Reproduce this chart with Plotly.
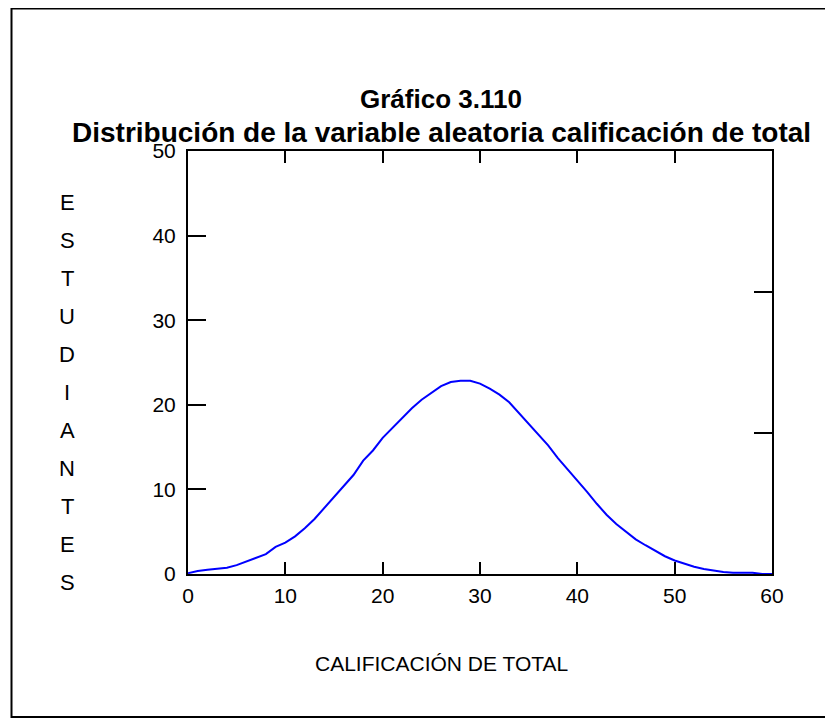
import plotly.graph_objects as go

# calificación de total (x) y número de estudiantes (y)
calificacion = list(range(0, 61))
estudiantes = [
    0.1, 0.35, 0.5, 0.6, 0.75, 1.05, 1.5, 1.95, 2.35, 3.2,
    3.7, 4.45, 5.4, 6.5, 7.8, 9.1, 10.4, 11.7, 13.4, 14.6,
    16.1, 17.3, 18.5, 19.6, 20.6, 21.4, 22.2, 22.7, 22.85, 22.85,
    22.5, 21.9, 21.2, 20.3, 19.0, 17.7, 16.4, 15.2, 13.7, 12.4,
    11.0, 9.7, 8.3, 7.0, 5.9, 5.0, 4.1, 3.4, 2.7, 2.1,
    1.6, 1.2, 0.85, 0.6, 0.4, 0.25, 0.15, 0.15, 0.15, 0.0,
    0.0,
]
x_ticks = [0, 10, 20, 30, 40, 50, 60]
y_ticks = [0, 10, 20, 30, 40, 50]

FONT = "Liberation Sans, Arial, sans-serif"
OFF = 8  # page body margin

fig = go.Figure()
fig.add_trace(
    go.Scatter(
        x=calificacion,
        y=estudiantes,
        mode="lines",
        line=dict(color="#0000ff", width=2),
        showlegend=False,
    )
)
# invisible trace so the right-hand axis gets drawn
fig.add_trace(
    go.Scatter(x=[0], y=[0], yaxis="y2", mode="markers",
               marker=dict(opacity=0), showlegend=False, hoverinfo="skip")
)

W, H = 833, 725
L, T = 188 - OFF, 151 - OFF
R, B = W - (772 - OFF), H - (574 - OFF)
pw, ph = W - L - R, H - T - B

fig.update_layout(
    width=W,
    height=H,
    plot_bgcolor="white",
    paper_bgcolor="white",
    margin=dict(l=L, r=R, t=T, b=B, pad=0),
    font=dict(family=FONT, color="black", size=21),
    xaxis=dict(
        range=[0, 60],
        tickvals=x_ticks,
        ticks="inside",
        ticklen=12,
        tickwidth=2,
        tickcolor="black",
        showline=True,
        linecolor="black",
        linewidth=2,
        mirror="ticks",
        showgrid=False,
        zeroline=False,
        ticklabelstandoff=2,
    ),
    yaxis=dict(
        range=[0, 50],
        tickvals=y_ticks,
        ticks="inside",
        ticklen=18,
        tickwidth=2,
        tickcolor="black",
        showline=True,
        linecolor="black",
        linewidth=2,
        mirror=True,
        showgrid=False,
        zeroline=False,
        ticklabelstandoff=6,
    ),
    yaxis2=dict(
        range=[0, 3],
        overlaying="y",
        side="right",
        tickvals=[1, 2],
        ticks="inside",
        ticklen=18,
        tickwidth=2,
        tickcolor="black",
        showticklabels=False,
        showline=False,
        showgrid=False,
        zeroline=False,
    ),
)


def px_x(p):
    return (p - OFF - L) / pw


def px_y(p):
    return (H - B - (p - OFF)) / ph


# outer frame
fig.add_shape(
    type="rect", xref="paper", yref="paper",
    x0=px_x(11.5), x1=px_x(826), y0=px_y(717), y1=px_y(8.5),
    line=dict(color="black", width=2),
)

fig.add_annotation(
    text="<b>Gráfico 3.110</b>", xref="paper", yref="paper",
    x=px_x(441), y=px_y(99), xanchor="center", yanchor="middle",
    showarrow=False, font=dict(family=FONT, size=26, color="black"),
)
fig.add_annotation(
    text="<b>Distribución de la variable aleatoria calificación de total</b>",
    xref="paper", yref="paper",
    x=px_x(441), y=px_y(132), xanchor="center", yanchor="middle",
    showarrow=False, font=dict(family=FONT, size=28, color="black"),
)
fig.add_annotation(
    text="CALIFICACIÓN DE TOTAL", xref="paper", yref="paper",
    x=px_x(441), y=px_y(663), xanchor="center", yanchor="middle",
    showarrow=False, font=dict(family=FONT, size=21, color="black"),
)

# vertical y-axis title, one letter per line
for i, letra in enumerate("ESTUDIANTES"):
    fig.add_annotation(
        text=letra, xref="paper", yref="paper",
        x=px_x(67), y=px_y(203 + i * 37.9), xanchor="center", yanchor="middle",
        showarrow=False, font=dict(family=FONT, size=22, color="black"),
    )

fig.write_html("out.html")
